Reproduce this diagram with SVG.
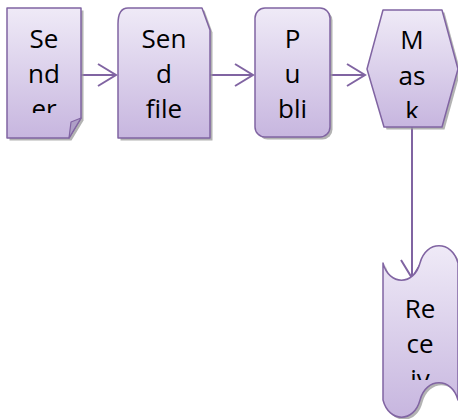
<svg xmlns="http://www.w3.org/2000/svg" xmlns:xlink="http://www.w3.org/1999/xlink" width="458" height="419" viewBox="0 0 458 419">
<style>
.node{stroke:#8064A2;stroke-width:1.5;stroke-linejoin:round}
.shadow{fill:#9a9a9a;opacity:0.75}
.lbl{font-family:"Open Sans","Noto Sans",sans-serif;font-size:26px;fill:#000;text-anchor:middle}
.conn{stroke:#8064A2;stroke-width:2;fill:none}
</style>
<defs>
<linearGradient id="gTop" x1="0" y1="0" x2="0" y2="1">
<stop offset="0" stop-color="#EFEAF7"/>
<stop offset="1" stop-color="#C7B6DF"/>
</linearGradient>
<marker id="arr" markerUnits="userSpaceOnUse" markerWidth="24" markerHeight="26" refX="19" refY="12" orient="auto" viewBox="0 0 24 26">
<path d="M1,1 L19,12 L1,23" fill="none" stroke="#8064A2" stroke-width="2"/>
</marker>
<path id="sSender" d="M7,8 H81 V118 L69,138 H7 Z"/>
<path id="sSend" d="M128,8 H202 L210,30 V138 H118 V24 Q118,8 128,8 Z"/>
<rect id="sPub" x="255" y="8" width="75" height="129" rx="10" ry="10"/>
<polygon id="sMask" points="367,69 383,10 442,10 458,69 442,127 384,127"/>
<path id="sRecv" d="M383,263 C389,286 414,286 420,263 C426,240 452,240 458,263 V400 C452,377 426,377 420,400 C414,423 389,423 383,400 Z"/>
<clipPath id="cSender"><rect x="7" y="8" width="74" height="105"/></clipPath>
<clipPath id="cMask"><rect x="367" y="10" width="91" height="108"/></clipPath>
<clipPath id="cRecv"><rect x="383" y="250" width="75" height="130"/></clipPath>
</defs>
<g id="connectors">
<line class="conn" x1="81" y1="75" x2="116" y2="75" marker-end="url(#arr)"/>
<line class="conn" x1="210" y1="75" x2="253" y2="75" marker-end="url(#arr)"/>
<line class="conn" x1="330" y1="75" x2="365" y2="75" marker-end="url(#arr)"/>
<line class="conn" x1="412" y1="127" x2="412" y2="278" marker-end="url(#arr)"/>
</g>
<g id="node-sender">
<use xlink:href="#sSender" class="shadow" transform="translate(2.5,2.5)"/>
<use xlink:href="#sSender" class="node" fill="url(#gTop)"/>
<path d="M69,138 L71,122 L81,118 Z" fill="#AE9FC6" stroke="#8064A2" stroke-width="1.2" stroke-linejoin="round"/>
<g clip-path="url(#cSender)">
<text class="lbl" x="44" y="48">Se</text>
<text class="lbl" x="44" y="83">nd</text>
<text class="lbl" x="44" y="118">er</text>
</g>
</g>
<g id="node-sendfile">
<use xlink:href="#sSend" class="shadow" transform="translate(2.5,2.5)"/>
<use xlink:href="#sSend" class="node" fill="url(#gTop)"/>
<text class="lbl" x="164" y="48">Sen</text>
<text class="lbl" x="164" y="83">d</text>
<text class="lbl" x="164" y="118">file</text>
</g>
<g id="node-publi">
<use xlink:href="#sPub" class="shadow" transform="translate(2.5,2.5)"/>
<use xlink:href="#sPub" class="node" fill="url(#gTop)"/>
<text class="lbl" x="292.5" y="48">P</text>
<text class="lbl" x="292.5" y="83">u</text>
<text class="lbl" x="292.5" y="118">bli</text>
</g>
<g id="node-mask">
<use xlink:href="#sMask" class="shadow" transform="translate(2.5,2.5)"/>
<use xlink:href="#sMask" class="node" fill="url(#gTop)"/>
<g clip-path="url(#cMask)">
<text class="lbl" x="412" y="49">M</text>
<text class="lbl" x="412" y="85">as</text>
<text class="lbl" x="412" y="120">k</text>
</g>
</g>
<g id="node-receive">
<use xlink:href="#sRecv" class="shadow" transform="translate(2.5,2.5)"/>
<use xlink:href="#sRecv" class="node" fill="url(#gTop)"/>
<g clip-path="url(#cRecv)">
<text class="lbl" x="420" y="318">Re</text>
<text class="lbl" x="420" y="353">ce</text>
<text class="lbl" x="420" y="388">iv</text>
</g>
</g>
</svg>
